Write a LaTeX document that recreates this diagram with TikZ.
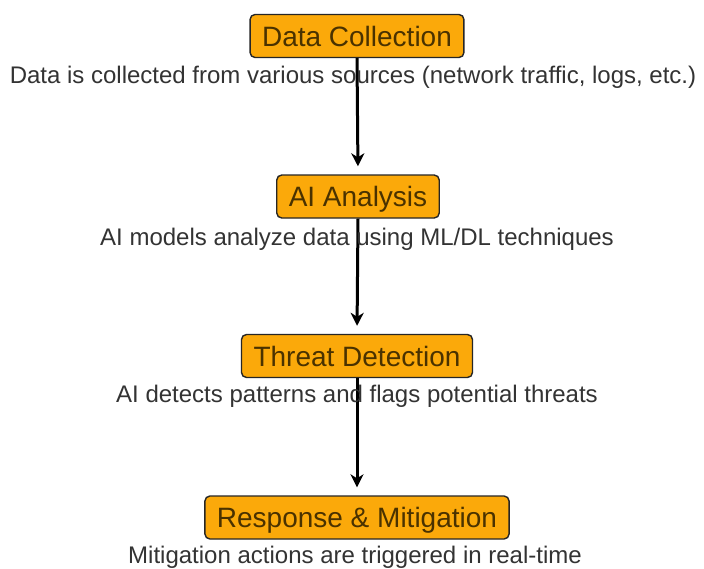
\documentclass[tikz,border=0pt]{standalone}
\usepackage{fontspec}
\setmainfont{Liberation Sans}
\usetikzlibrary{arrows.meta}
\definecolor{boxfill}{HTML}{FBA90A}
\definecolor{boxtext}{HTML}{4A3200}
\definecolor{desctext}{HTML}{333333}
\tikzset{
  stepbox/.style={draw=black!85, line width=1.4pt, fill=boxfill, rounded corners=5pt,
    text=boxtext, font=\fontsize{28}{30}\selectfont, inner xsep=12pt,
    text height=20pt, text depth=0pt, inner ysep=11.5pt},
  desc/.style={anchor=base, text=desctext, font=\fontsize{24}{26}\selectfont, inner sep=0pt},
  flow/.style={line width=3pt, -{Stealth[width=13pt,length=13pt,inset=4pt]}, shorten >=8pt}
}
\begin{document}
\begin{tikzpicture}[x=1pt,y=-1pt]
\useasboundingbox (0,0) rectangle (704,568);
\fill[white] (0,0) rectangle (704,568);
\node[stepbox] (b1) at (357,36) {Data Collection};
\node[stepbox] (b2) at (358,196.5) {AI Analysis};
\node[stepbox] (b3) at (357,356) {Threat Detection};
\node[stepbox] (b4) at (357,517.5) {Response \& Mitigation};
\draw[flow] (b1.south) -- (b2.north);
\draw[flow] (b2.south) -- (b3.north);
\draw[flow] (b3.south) -- (b4.north);
\node[desc] (d1) at (353,83.5) {Data is collected from various sources (network traffic, logs, etc.)};
\node[desc] (d2) at (357,245) {AI models analyze data using ML/DL techniques};
\node[desc] (d3) at (357,402) {AI detects patterns and flags potential threats};
\node[desc] (d4) at (355,563) {Mitigation actions are triggered in real-time};
\end{tikzpicture}
\end{document}
